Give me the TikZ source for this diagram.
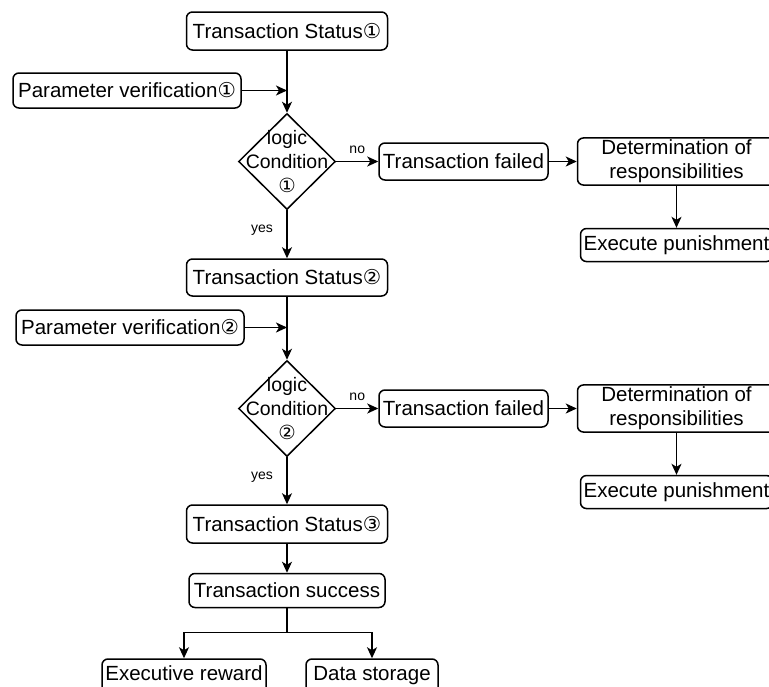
\documentclass[tikz,border=0pt]{standalone}
\usepackage{fontspec}
\setmainfont{Liberation Sans}
\newfontfamily\circfont{DejaVu Sans}
\usetikzlibrary{shapes.geometric, arrows.meta, positioning}

\begin{document}
\begin{tikzpicture}[
    x=1pt, y=1pt,
    box/.style={rectangle, draw, rounded corners=6pt, line width=1.5pt,
                font=\fontsize{20.5}{24}\selectfont, align=center,
                inner sep=2pt, fill=white},
    cond/.style={diamond, draw, line width=1.5pt, inner sep=0pt,
                 minimum width=97pt, minimum height=96pt},
    condtext/.style={font=\fontsize{19.5}{24}\selectfont, align=center},
    arrow/.style={-{Stealth[length=11pt, width=10pt, inset=3pt]}, line width=1.5pt},
    lbl/.style={font=\fontsize{14}{16}\selectfont}
]
\useasboundingbox (0,0) rectangle (769,-686);

%% -- Stage 1 ---------------------------------------------------------------
\node[box, minimum width=201pt, minimum height=38pt] (ts1) at (287,-31)
      {Transaction Status{\circfont ①}};
\node[box, minimum width=228pt, minimum height=35pt] (pv1) at (127,-90.5)
      {Parameter verification{\circfont ①}};
\node[cond, below=62pt of ts1,
      label={[condtext]center:{logic\\Condition\\{\circfont ①}}}] (lc1) {};
\node[box, right=42pt of lc1, minimum width=169pt, minimum height=37pt] (tf1)
      {Transaction failed};
\node[box, right=28pt of tf1, minimum width=198pt, minimum height=46pt] (dr1)
      {Determination of\\responsibilities};
\node[box, below=42pt of dr1, minimum width=192pt, minimum height=33pt] (ep1)
      {Execute punishment};

\draw[arrow] (ts1) -- (lc1);
\draw[arrow] (pv1) -- (pv1 -| ts1);
\draw[arrow] (lc1) -- node[lbl, above=4pt] {no} (tf1);
\draw[arrow] (tf1) -- (dr1);
\draw[arrow] (dr1) -- (ep1);

%% -- Stage 2 ---------------------------------------------------------------
\node[box, below=48pt of lc1, minimum width=201pt, minimum height=37pt] (ts2)
      {Transaction Status{\circfont ②}};
\node[box, minimum width=228pt, minimum height=35pt] (pv2) at (130,-327.5)
      {Parameter verification{\circfont ②}};
\node[cond, below=63pt of ts2,
      label={[condtext]center:{logic\\Condition\\{\circfont ②}}}] (lc2) {};
\node[box, right=42pt of lc2, minimum width=169pt, minimum height=37pt] (tf2)
      {Transaction failed};
\node[box, right=28pt of tf2, minimum width=198pt, minimum height=46pt] (dr2)
      {Determination of\\responsibilities};
\node[box, below=42pt of dr2, minimum width=192pt, minimum height=33pt] (ep2)
      {Execute punishment};

\draw[arrow] (lc1) -- node[lbl, left=10pt, pos=0.42] {yes} (ts2);
\draw[arrow] (ts2) -- (lc2);
\draw[arrow] (pv2) -- (pv2 -| ts2);
\draw[arrow] (lc2) -- node[lbl, above=4pt] {no} (tf2);
\draw[arrow] (tf2) -- (dr2);
\draw[arrow] (dr2) -- (ep2);

%% -- Stage 3 and result ----------------------------------------------------
\node[box, below=47pt of lc2, minimum width=201pt, minimum height=38pt] (ts3)
      {Transaction Status{\circfont ③}};
\node[box, below=29pt of ts3, minimum width=196pt, minimum height=34pt] (ok)
      {Transaction success};
\node[box, below=50pt of ok, xshift=-103pt, minimum width=164pt,
      minimum height=40pt, text depth=12pt] (er) {Executive reward};
\node[box, below=50pt of ok, xshift=85pt, minimum width=132pt,
      minimum height=40pt, text depth=12pt] (ds) {Data storage};
\coordinate[below=24pt of ok] (fork);

\draw[arrow] (lc2) -- node[lbl, left=10pt, pos=0.42] {yes} (ts3);
\draw[arrow] (ts3) -- (ok);
\draw[line width=1.5pt] (ok) -- (fork);
\draw[arrow] (fork) -| (er);
\draw[arrow] (fork) -| (ds);

\end{tikzpicture}
\end{document}
